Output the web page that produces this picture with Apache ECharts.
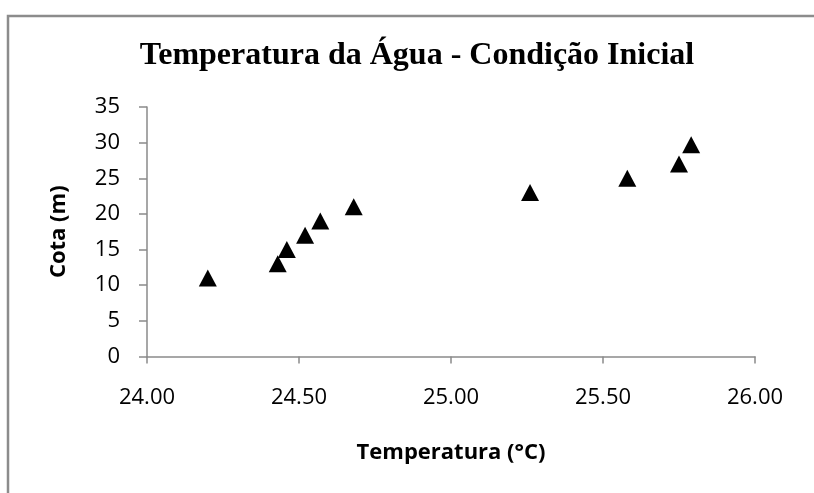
<!DOCTYPE html>
<html>
<head>
<meta charset="utf-8">
<title>Temperatura da Água - Condição Inicial</title>
<script src="https://cdn.jsdelivr.net/npm/echarts@6/dist/echarts.min.js"></script>
<style>
  html, body { margin: 0; padding: 0; background: #fff; }
  #chart { width: 814px; height: 493px; }
</style>
</head>
<body>
<div id="chart"></div>
<script>
// 数据
const temperatura = [24.20, 24.43, 24.46, 24.52, 24.57, 24.68, 25.26, 25.58, 25.75, 25.79];
const cota = [11, 13, 15, 17, 19, 21, 23, 25, 27, 29.7];
const xTicks = [24.0, 24.5, 25.0, 25.5, 26.0];
const yTicks = [0, 5, 10, 15, 20, 25, 30, 35];

let chart;

document.addEventListener('DOMContentLoaded', function() {
  chart = echarts.init(document.getElementById('chart'));
  renderChart();
});

function renderChart() {
  const axisColor = '#8a8a8a';
  const labelFont = { fontFamily: 'Open Sans', fontSize: 22, color: '#000' };
  const nameFont = { fontFamily: 'Open Sans', fontSize: 22, fontWeight: 'bold', color: '#000' };

  const option = {
    animation: false,
    backgroundColor: '#fff',
    graphic: [
      {
        // 外框
        type: 'rect',
        shape: { x: 8, y: 16, width: 900, height: 600 },
        style: { fill: 'none', stroke: '#8c8c8c', lineWidth: 2.5 },
        silent: true
      },
      {
        // 标题
        type: 'text',
        x: 417,
        y: 56,
        style: {
          text: 'Temperatura da Água - Condição Inicial',
          font: 'bold 32px "Liberation Serif"',
          fill: '#000',
          align: 'center',
          verticalAlign: 'middle'
        }
      }
    ],
    grid: {
      left: 147,
      top: 107,
      width: 608,
      height: 249.5
    },
    xAxis: {
      type: 'value',
      min: xTicks[0],
      max: xTicks[xTicks.length - 1],
      interval: xTicks[1] - xTicks[0],
      name: 'Temperatura (°C)',
      nameLocation: 'middle',
      nameGap: 85,
      nameTextStyle: nameFont,
      axisLine: { show: true, lineStyle: { color: axisColor, width: 1.5 } },
      axisTick: { show: true, length: 7, lineStyle: { color: axisColor, width: 1.5 } },
      axisLabel: Object.assign({ margin: 30, formatter: v => v.toFixed(2) }, labelFont),
      splitLine: { show: false }
    },
    yAxis: {
      type: 'value',
      min: yTicks[0],
      max: yTicks[yTicks.length - 1],
      interval: yTicks[1] - yTicks[0],
      name: 'Cota (m)',
      nameLocation: 'middle',
      nameGap: 77,
      nameTextStyle: nameFont,
      axisLine: { show: true, lineStyle: { color: axisColor, width: 1.5 } },
      axisTick: { show: true, length: 8, lineStyle: { color: axisColor, width: 1.5 } },
      axisLabel: Object.assign({ margin: 27 }, labelFont),
      splitLine: { show: false }
    },
    series: [{
      type: 'scatter',
      data: temperatura.map((t, i) => [t, cota[i]]),
      symbol: 'triangle',
      symbolSize: [18, 17],
      itemStyle: { color: '#000', opacity: 1 }
    }]
  };

  chart.setOption(option);
}
</script>
</body>
</html>
